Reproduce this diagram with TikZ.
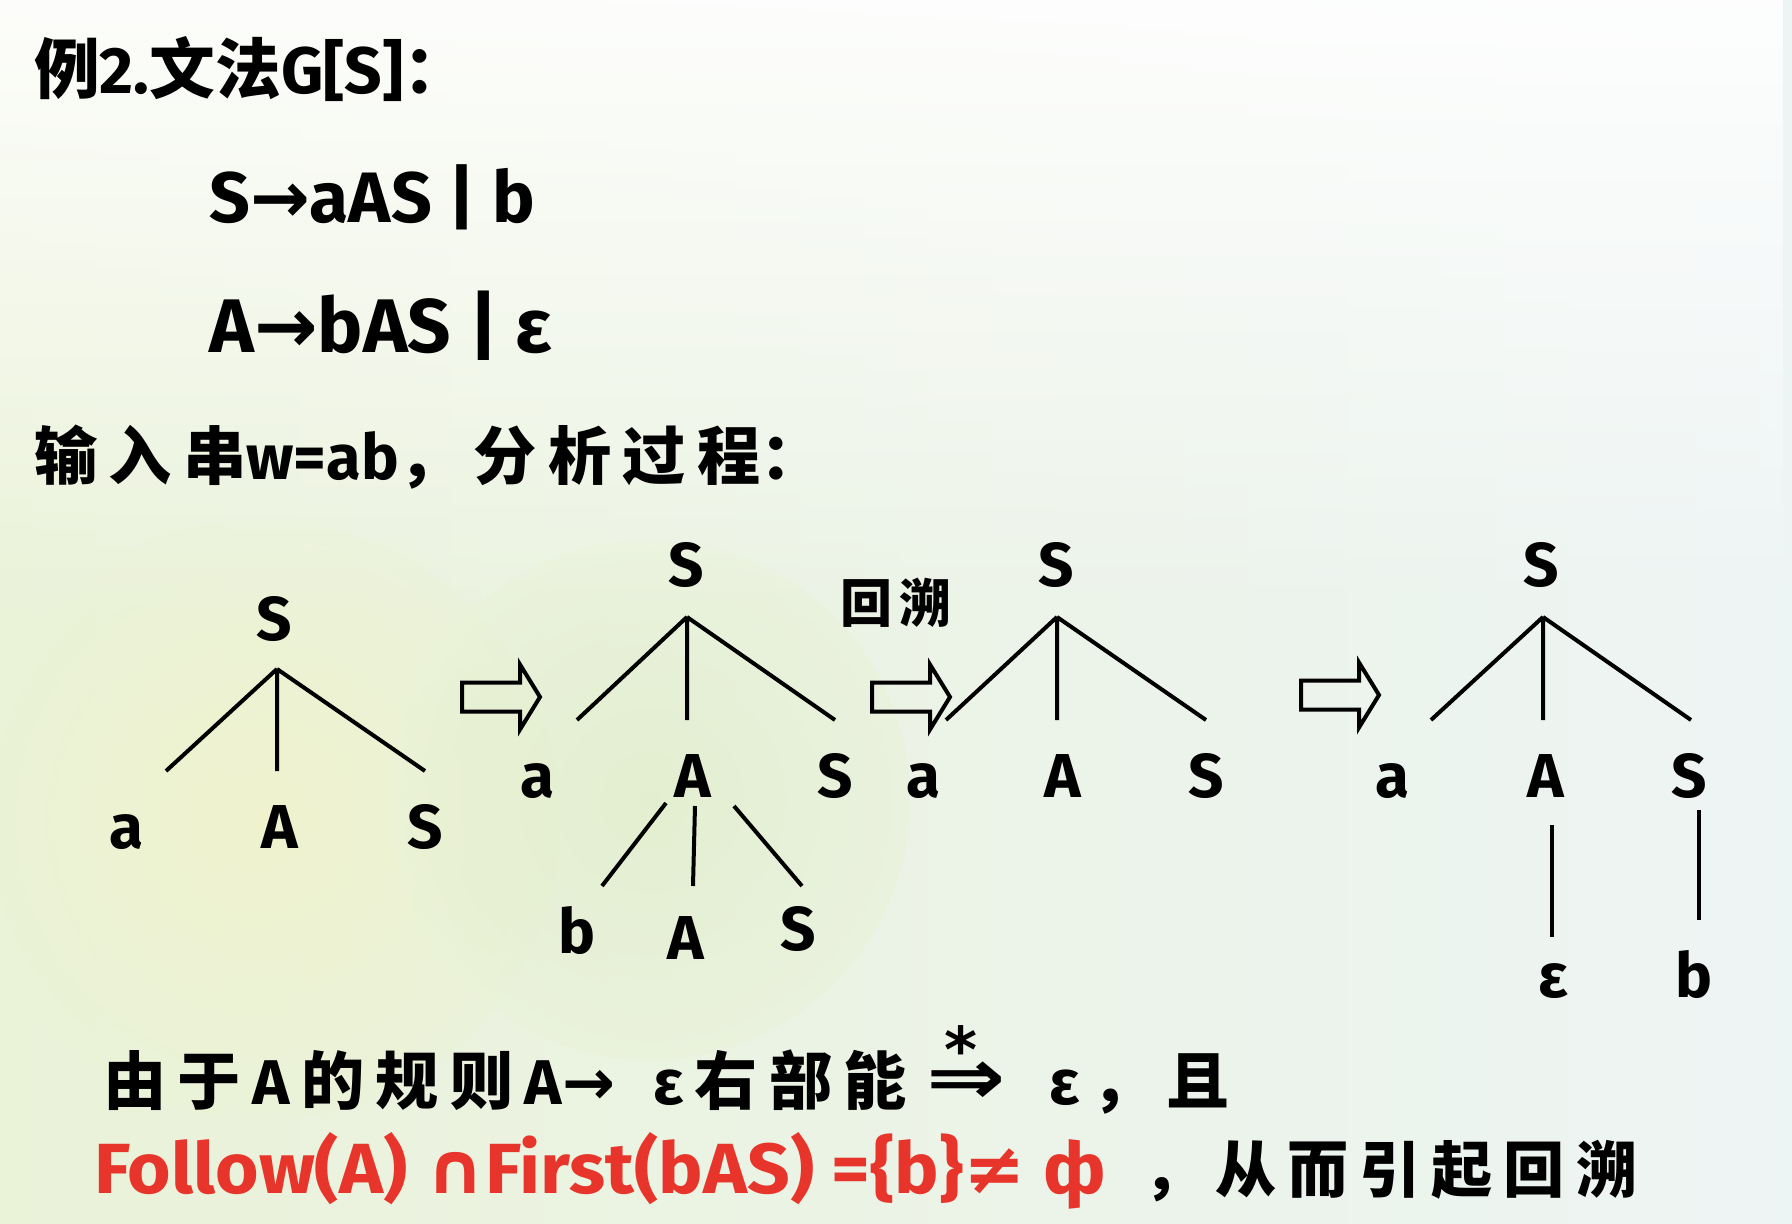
\documentclass[tikz,border=0pt]{standalone}
\usepackage{fontspec}
\usepackage{amsmath}
\setmainfont{Fira Sans}
\newfontfamily\lat{Fira Sans}
\newfontfamily\cjk{Noto Sans CJK SC}
\newfontfamily\dv{DejaVu Sans}
\usetikzlibrary{fadings}
\definecolor{redtxt}{HTML}{E8352B}
\definecolor{bgL}{HTML}{EAF2D8}
\definecolor{bgR}{HTML}{EDF4F4}
\definecolor{blobG}{HTML}{DDEBC0}
\definecolor{blobY}{HTML}{F2F3C8}
\newcommand\cs{\hspace{0.18em}}
\newcommand\lf[1]{\scalebox{6.2}{\lat\bfseries #1}}
\begin{document}
\begin{tikzpicture}[x=1pt,y=-1pt,
  leaf/.style={inner sep=0pt, anchor=base},
  edge/.style={line width=4pt},
  hollow/.style={line width=4pt, line join=miter},
  harrow/.pic={\draw[hollow] (0,-14.5) -- (58,-14.5) -- (58,-32.5) -- (78,0) -- (58,32.5) -- (58,14.5) -- (0,14.5) -- cycle;},
  txt/.style={inner sep=0pt, anchor=west}]
\useasboundingbox (0,0) rectangle (1792,1224);
% background
\shade[left color=bgL, right color=bgR] (0,0) rectangle (1792,1224);
\shade[inner color=blobY, outer color=bgL, opacity=0.7] (260,820) circle (300);
\shade[inner color=blobG, outer color=bgL, opacity=0.5] (650,800) circle (260);
\fill[white, path fading=south, opacity=0.9] (0,0) rectangle (1792,620);

% text lines
\node[txt] (title) at (34,69) {\resizebox{435pt}{!}{\bfseries\cjk 例\lat 2.\cjk 文法\lat G[S]\cjk ：}};
\node[txt] (rule1) at (209,197) {\resizebox{326pt}{!}{\lat\bfseries S{\dv →}aAS | b}};
\node[txt] (rule2) at (209,326) {\resizebox{343pt}{!}{\lat\bfseries A{\dv →}bAS | ε}};
\node[txt] (input) at (34,457) {\resizebox{789pt}{!}{\bfseries\cjk 输\cs 入\cs 串\lat w=ab\cjk ，\cs 分\cs 析\cs 过\cs 程：}};

% tree 1
\node[leaf] (t1S) at (274,640) {\lf{S}};
\node[leaf] (t1a) at (126,848) {\lf{a}};
\node[leaf] (t1A) at (280,848) {\lf{A}};
\node[leaf] (t1S2) at (425,848) {\lf{S}};
\coordinate (t1p) at (277,669);
\coordinate (t1e1) at (166,771);
\coordinate (t1e2) at (277,771);
\coordinate (t1e3) at (425,771);
\draw[edge] (t1p) -- (t1e1) (t1p) -- (t1e2) (t1p) -- (t1e3);

\pic at (462,697) {harrow};

% tree 2
\node[leaf] (t2S) at (686,586) {\lf{S}};
\node[leaf] (t2a) at (537,797) {\lf{a}};
\node[leaf] (t2A) at (693,797) {\lf{A}};
\node[leaf] (t2S2) at (835,797) {\lf{S}};
\coordinate (t2p) at (687,617);
\coordinate (t2e1) at (577,720);
\coordinate (t2e2) at (687,720);
\coordinate (t2e3) at (835,720);
\draw[edge] (t2p) -- (t2e1) (t2p) -- (t2e2) (t2p) -- (t2e3);
\node[leaf] (t2b) at (577,953) {\lf{b}};
\node[leaf] (t2A2) at (686,959) {\lf{A}};
\node[leaf] (t2S3) at (798,950) {\lf{S}};
\coordinate (t2q1) at (666,803);
\coordinate (t2q2) at (695,806);
\coordinate (t2q3) at (734,806);
\coordinate (t2f1) at (602,886);
\coordinate (t2f2) at (693,886);
\coordinate (t2f3) at (802,886);
\draw[edge] (t2q1) -- (t2f1) (t2q2) -- (t2f2) (t2q3) -- (t2f3);

\node[inner sep=0pt] (back) at (896,603) {\cjk\bfseries\fontsize{52}{56}\selectfont 回\hspace{0.15em}溯};
\pic at (872,697) {harrow};

% tree 3
\node[leaf] (t3S) at (1056,586) {\lf{S}};
\node[leaf] (t3a) at (923,797) {\lf{a}};
\node[leaf] (t3A) at (1063,797) {\lf{A}};
\node[leaf] (t3S2) at (1206,797) {\lf{S}};
\coordinate (t3p) at (1057,617);
\coordinate (t3e1) at (946,720);
\coordinate (t3e2) at (1057,720);
\coordinate (t3e3) at (1206,720);
\draw[edge] (t3p) -- (t3e1) (t3p) -- (t3e2) (t3p) -- (t3e3);

\pic at (1301,695) {harrow};

% tree 4
\node[leaf] (t4S) at (1541,586) {\lf{S}};
\node[leaf] (t4a) at (1392,797) {\lf{a}};
\node[leaf] (t4A) at (1546,797) {\lf{A}};
\node[leaf] (t4S2) at (1689,797) {\lf{S}};
\coordinate (t4p) at (1543,617);
\coordinate (t4e1) at (1431,720);
\coordinate (t4e2) at (1543,720);
\coordinate (t4e3) at (1691,720);
\draw[edge] (t4p) -- (t4e1) (t4p) -- (t4e2) (t4p) -- (t4e3);
\node[leaf] (t4eps) at (1553,997) {\lf{ε}};
\node[leaf] (t4b) at (1694,997) {\lf{b}};
\coordinate (t4v1) at (1552,825);
\coordinate (t4v2) at (1552,937);
\coordinate (t4w1) at (1699,810);
\coordinate (t4w2) at (1699,920);
\draw[edge] (t4v1) -- (t4v2) (t4w1) -- (t4w2);

% bottom explanation
\node[inner sep=0pt, anchor=base west] (expl1) at (103,1104) {\resizebox{1126pt}{!}{\bfseries\cjk 由\cs 于\cs\lat A\cs\cjk 的\cs 规\cs 则\cs\lat A{\dv →}\hspace{0.6em}ε\cs\cjk 右\cs 部\cs 能\hspace{0.3em}\scalebox{1.5}[1.25]{\dv ⇒}\makebox[0pt][r]{\raisebox{0.5em}{\dv *}\hspace{0.45em}}\hspace{0.7em}\lat ε\cs\cjk ，\cs 且}};
\node[txt] (expl2) at (94,1171) {\resizebox{1012pt}{61pt}{\lat\bfseries\fontsize{80}{84}\selectfont\color{redtxt}Follow(A) {\dv ∩}First(bAS) =\{b\}{\dv ≠} ф}};
\node[txt] (expl3) at (1143,1171) {\resizebox{494pt}{!}{\cjk\bfseries ，\cs 从\cs 而\cs 引\cs 起\cs 回\cs 溯}};
\end{tikzpicture}
\end{document}
